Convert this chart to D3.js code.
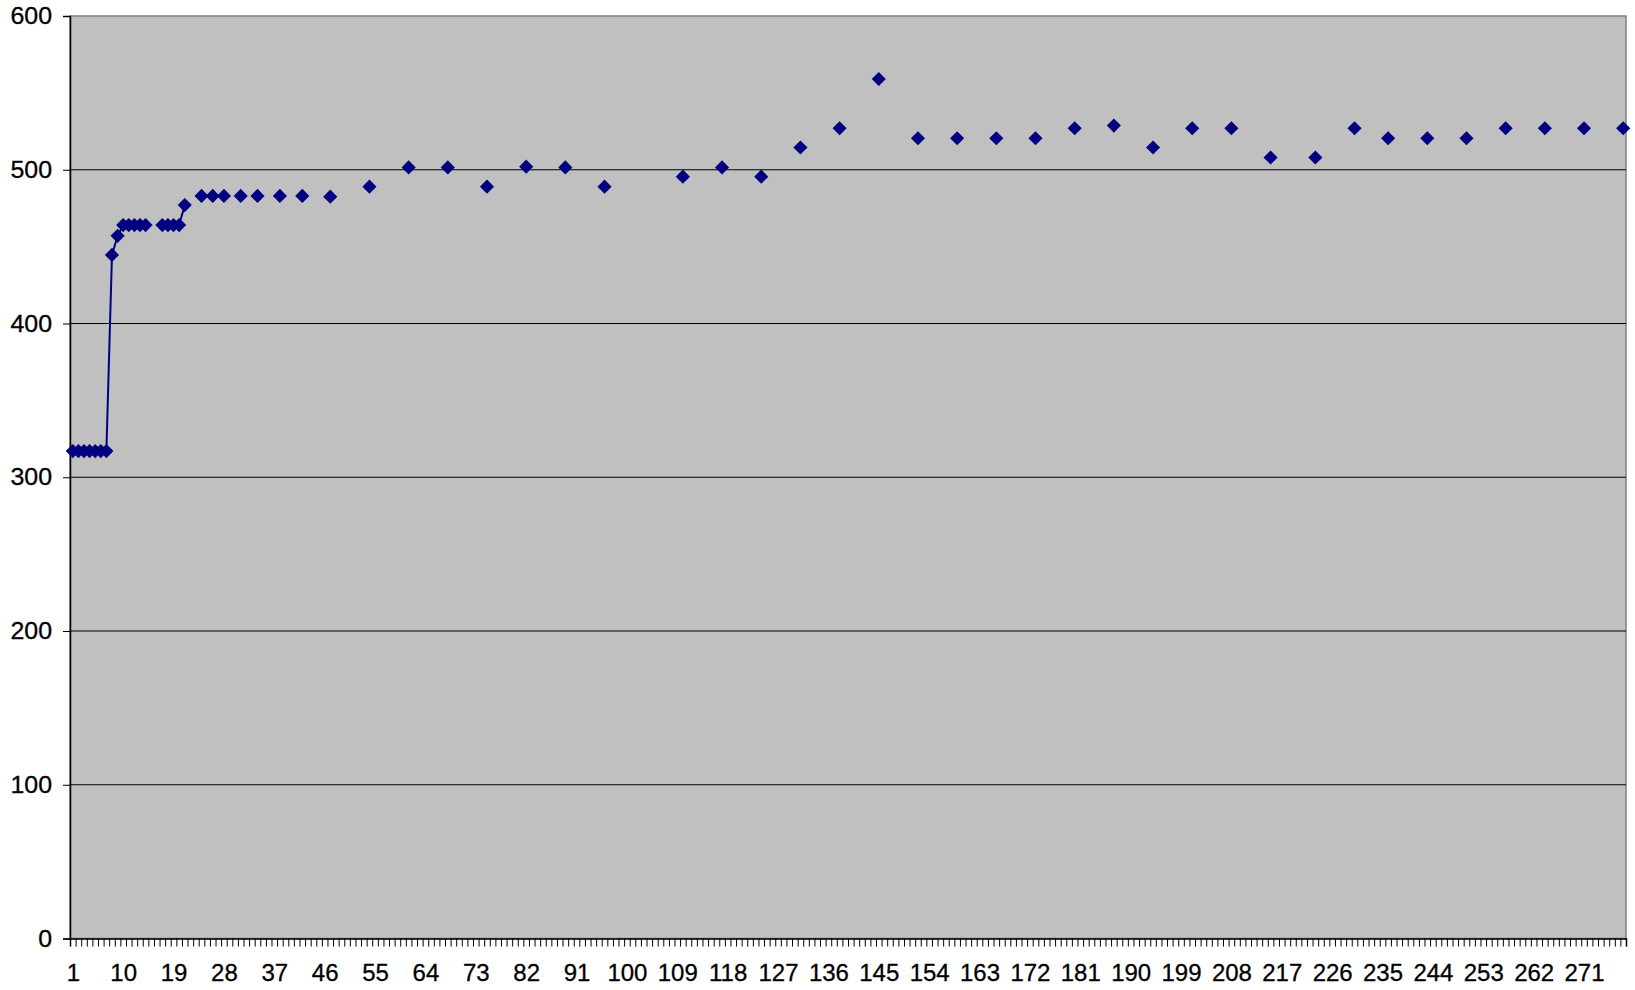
<!DOCTYPE html>
<html lang="en">
<head>
    <meta charset="UTF-8">
    <title>Chart</title>
    <script src="https://d3js.org/d3.v7.min.js"></script>
    <style>
        body { margin: 0; background: #fff; }
        .lbl text { font-family: "Liberation Sans", Arial, sans-serif; font-size: 24px; fill: #000; stroke: #000; stroke-width: 0.3px; }
    </style>
</head>
<body>
    <div id="chart"></div>

    <script>
        // category count on the x axis
        const categoryCount = 278;
        const xTickLabels = [1, 10, 19, 28, 37, 46, 55, 64, 73, 82, 91, 100, 109, 118, 127, 136, 145,
            154, 163, 172, 181, 190, 199, 208, 217, 226, 235, 244, 253, 262, 271];
        const yTicks = [0, 100, 200, 300, 400, 500, 600];

        // measured points (category, value)
        const pointDays = [1, 2, 3, 4, 5, 6, 7, 8, 9, 10, 11, 12, 13, 14, 17, 18, 19, 20, 21,
            24, 26, 28, 31, 34, 38, 42, 47, 54, 61, 68, 75, 82, 89, 96, 110, 117, 124, 131, 138,
            145, 152, 159, 166, 173, 180, 187, 194, 201, 208, 215, 223, 230, 236, 243, 250, 257,
            264, 271, 278];
        const pointValues = [317, 317, 317, 317, 317, 317, 317, 444.6, 457, 464, 464, 464, 464, 464,
            464, 464, 464, 464, 477,
            483, 483, 483, 483, 483, 483, 483, 482.5, 489, 501.5, 501.5, 489, 502, 501.5, 489,
            495.5, 501.5, 495.5, 514.5, 527,
            559, 520.5, 520.5, 520.5, 520.5, 527, 528.7, 514.5, 527, 527, 508, 508, 527, 520.5,
            520.5, 520.5, 527, 527, 527, 527];

        const width = 1635, height = 990;
        const plotLeft = 70, plotRight = 1626, plotTop = 16, plotBottom = 938.5;

        const byDay = new Map(pointDays.map((d, i) => [d, pointValues[i]]));
        const series = d3.range(1, categoryCount + 1).map(c => ({ c: c, v: byDay.has(c) ? byDay.get(c) : null }));

        const svg = d3.select("#chart").append("svg")
            .attr("width", width)
            .attr("height", height);

        const x = d3.scaleLinear().domain([0.5, categoryCount + 0.5]).range([plotLeft, plotRight]);
        const y = d3.scaleLinear().domain([0, 600]).range([plotBottom, plotTop]);

        // plot area
        svg.append("rect")
            .attr("x", plotLeft).attr("y", plotTop)
            .attr("width", plotRight - plotLeft).attr("height", plotBottom - plotTop)
            .attr("fill", "#c0c0c0")
            .attr("stroke", "#808080")
            .attr("stroke-width", 1.5);

        // gridlines
        svg.append("g")
            .selectAll("line")
            .data(yTicks.filter(t => t > 0 && t < 600))
            .enter().append("line")
            .attr("x1", plotLeft).attr("x2", plotRight)
            .attr("y1", d => y(d)).attr("y2", d => y(d))
            .attr("stroke", "#000")
            .attr("stroke-width", 1);

        // y axis
        const yAxis = svg.append("g")
            .attr("class", "lbl")
            .attr("transform", `translate(${plotLeft},0)`)
            .call(d3.axisLeft(y).tickValues(yTicks).tickSize(7).tickPadding(11).tickFormat(d3.format("d")));
        yAxis.select(".domain").attr("stroke", "#000").attr("stroke-width", 1.5);
        yAxis.selectAll(".tick line").attr("stroke", "#000");
        yAxis.selectAll("text").attr("font-family", null).attr("font-size", null)
            .attr("transform", "scale(1.04,1)").attr("x", -18 / 1.04);

        // x axis tick marks between categories
        const boundaries = d3.range(0, categoryCount + 1).map(c => c + 0.5);
        const xTicks = svg.append("g")
            .attr("transform", `translate(0,${plotBottom})`)
            .call(d3.axisBottom(x).tickValues(boundaries).tickSize(8).tickFormat(""));
        xTicks.select(".domain").attr("stroke", "#000").attr("stroke-width", 1.5);
        xTicks.selectAll(".tick line").attr("stroke", "#000");

        // x axis labels
        const xLabels = svg.append("g")
            .attr("class", "lbl")
            .attr("transform", `translate(0,${plotBottom})`)
            .call(d3.axisBottom(x).tickValues(xTickLabels).tickSize(0).tickPadding(25).tickFormat(d3.format("d")));
        xLabels.select(".domain").remove();
        xLabels.selectAll("text").attr("font-family", null).attr("font-size", null)
            .attr("transform", "scale(1.0,1)");

        // line segments only between neighbouring categories
        const line = d3.line()
            .defined(d => d.v !== null)
            .x(d => x(d.c))
            .y(d => y(d.v));

        svg.append("path")
            .datum(series)
            .attr("d", line)
            .attr("fill", "none")
            .attr("stroke", "#000080")
            .attr("stroke-width", 2);

        // diamond markers
        svg.append("g")
            .selectAll("path")
            .data(series.filter(d => d.v !== null))
            .enter().append("path")
            .attr("d", d3.symbol(d3.symbolSquare, 100))
            .attr("transform", d => `translate(${x(d.c)},${y(d.v)}) rotate(45)`)
            .attr("fill", "#000080");
    </script>
</body>
</html>
